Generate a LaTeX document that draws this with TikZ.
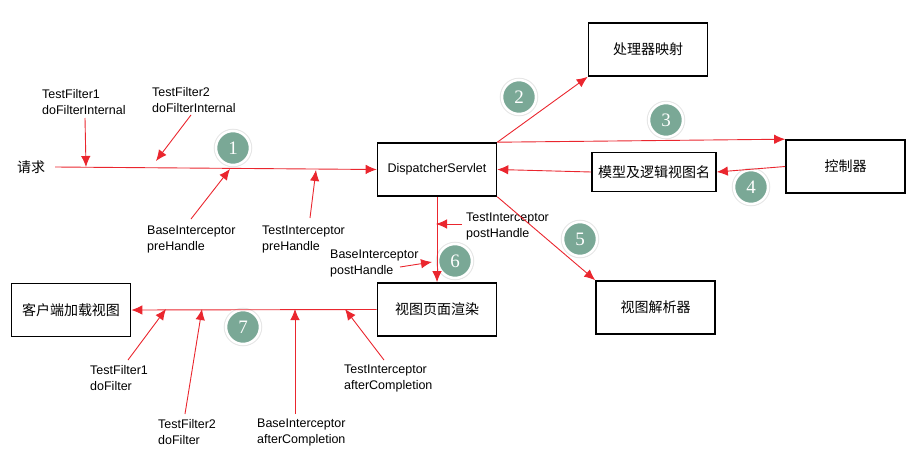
\documentclass[tikz,border=0pt]{standalone}
\usepackage{fontspec}
\newfontfamily\cjk{Noto Sans CJK SC}
\newfontfamily\lab{Liberation Sans}
\newfontfamily\digit{Liberation Serif}
\usepackage{tikz}
\usetikzlibrary{arrows.meta}
\definecolor{flowred}{RGB}{234,38,46}
\definecolor{stepgreen}{RGB}{122,168,150}

\begin{document}
\begin{tikzpicture}[x=1pt,y=-1pt,
  box/.style={draw,line width=1.6pt,minimum width=119pt,minimum height=53pt,
    inner sep=1pt,font=\cjk\fontsize{14}{16}\selectfont},
  note/.style={anchor=north west,inner sep=0pt,align=left,
    font=\lab\fontsize{12.5}{16}\selectfont},
  stepdot/.style={circle,fill=stepgreen,draw=white,line width=2.5pt,
    minimum size=34pt,inner sep=0pt,text=white,font=\digit\fontsize{19}{19}\selectfont,
    preaction={draw=black!10,line width=4.5pt}},
  flow/.style={draw=flowred,line width=0.9pt,-{Latex[length=11pt,width=9.5pt]}}]
\useasboundingbox (0,0) rectangle (916,471);

% boxes
\node[box] (map) at (648,49.5) {处理器映射};
\node[box,font=\lab\fontsize{12.5}{14}\selectfont] (ds) at (437,169.5) {DispatcherServlet};
\node[box] (ctrl) at (845.5,166.5) {控制器};
\node[box,minimum width=124pt,minimum height=39pt,inner sep=0pt] (model) at (654,172) {模型及逻辑视图名};
\node[box] (resolver) at (655.5,307.5) {视图解析器};
\node[box] (render) at (437,309.5) {视图页面渲染};
\node[box] (client) at (71,310) {客户端加载视图};
\node[font=\cjk\fontsize{14}{16}\selectfont,inner xsep=10pt] (req) at (31,167) {请求};

% steps
\node[stepdot] (s1) at (233,148) {1};
\node[stepdot] (s2) at (519,97) {2};
\node[stepdot] (s3) at (666,120) {3};
\node[stepdot] (s4) at (751,187) {4};
\node[stepdot] (s5) at (580,239) {5};
\node[stepdot] (s6) at (455,261) {6};
\node[stepdot] (s7) at (243,327) {7};

% labels
\node[note] (f1in) at (42,89.5) {TestFilter1\\doFilterInternal};
\node[note] (f2in) at (152,87.5) {TestFilter2\\doFilterInternal};
\node[note] (bpre) at (147,225.5) {BaseInterceptor\\preHandle};
\node[note] (tpre) at (262,225.5) {TestInterceptor\\preHandle};
\node[note] (tpost) at (466,212.5) {TestInterceptor\\postHandle};
\node[note] (bpost) at (330,249.5) {BaseInterceptor\\postHandle};
\node[note] (f1do) at (90,365.5) {TestFilter1\\doFilter};
\node[note] (f2do) at (158,419.5) {TestFilter2\\doFilter};
\node[note] (bafter) at (257,418.5) {BaseInterceptor\\afterCompletion};
\node[note] (tafter) at (344,364.5) {TestInterceptor\\afterCompletion};

% main flow
\begin{scope}[flow]
    \draw (req.east) -- (ds.west);
    \draw (ds.north east) -- (map.south west);
    \draw (ds.north east) -- (ctrl.north west);
    \draw (ctrl.west) -- (model.east);
    \draw (model.west) -- (ds.east);
    \draw (ds.south east) -- (resolver.north west);
    \draw (ds.south) -- (render.north);
    \draw (render.west) -- (client.east);
\end{scope}

% hooks
\coordinate (f1inT) at (85,118);   \coordinate (f1inH) at (86,167);
\coordinate (f2inT) at (191,115);  \coordinate (f2inH) at (156,161);
\coordinate (bpreT) at (191,219);  \coordinate (bpreH) at (230,169);
\coordinate (tpreT) at (310,218);  \coordinate (tpreH) at (316,170);
\coordinate (tpostT) at (462,224); \coordinate (tpostH) at (436,224);
\coordinate (bpostT) at (400,267); \coordinate (bpostH) at (432,262);
\coordinate (f1doT) at (128,360);  \coordinate (f1doH) at (166,309);
\coordinate (f2doT) at (185,414);  \coordinate (f2doH) at (202,309);
\coordinate (bafterT) at (295,414);\coordinate (bafterH) at (295,309);
\coordinate (tafterT) at (384,360);\coordinate (tafterH) at (345,309);
\begin{scope}[flow]
    \draw (f1inT) -- (f1inH);
    \draw (f2inT) -- (f2inH);
    \draw (bpreT) -- (bpreH);
    \draw (tpreT) -- (tpreH);
    \draw (tpostT) -- (tpostH);
    \draw (bpostT) -- (bpostH);
    \draw (f1doT) -- (f1doH);
    \draw (f2doT) -- (f2doH);
    \draw (bafterT) -- (bafterH);
    \draw (tafterT) -- (tafterH);
\end{scope}
\end{tikzpicture}
\end{document}
